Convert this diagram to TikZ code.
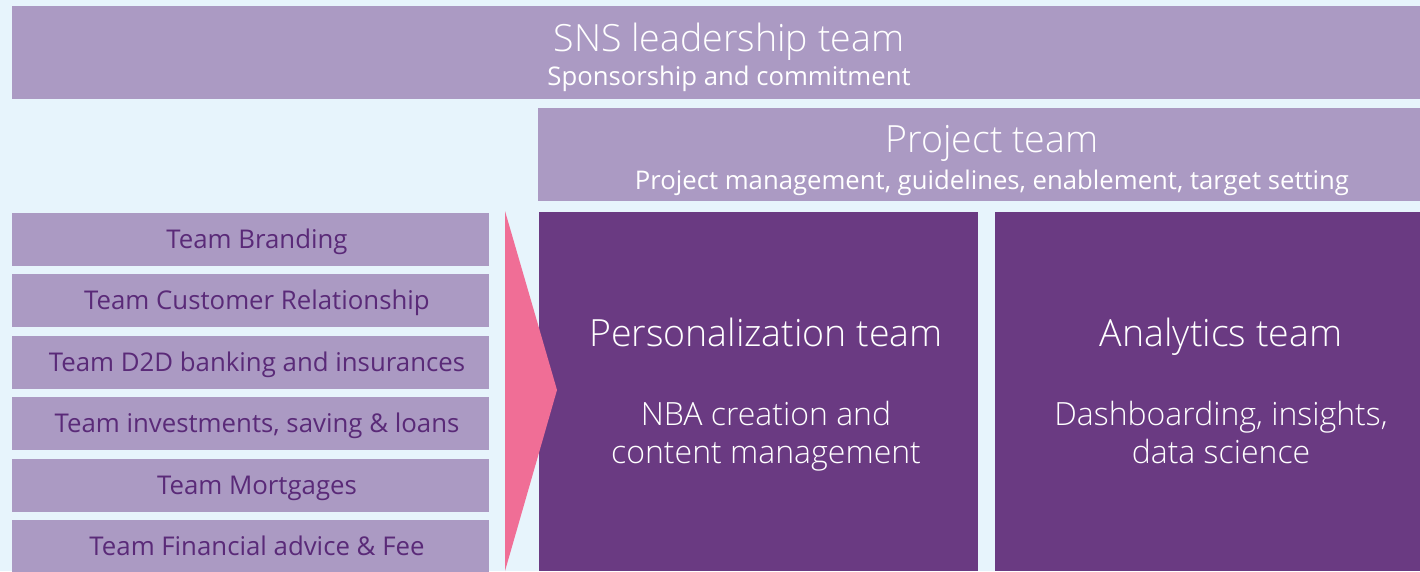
\documentclass[tikz,border=0pt]{standalone}
\usepackage{fontspec}
\setmainfont{Open Sans}
\newfontfamily\oslight{Open Sans Light}
\definecolor{bgblue}{HTML}{E7F4FC}
\definecolor{lilac}{HTML}{AB9AC3}
\definecolor{plum}{HTML}{6A3A82}
\definecolor{rose}{HTML}{F06E96}
\definecolor{inkplum}{HTML}{5A2A78}
\begin{document}
\begin{tikzpicture}[x=1pt,y=-1pt,
  block/.style={anchor=north west, inner sep=0pt, outer sep=0pt, fill=#1},
  title/.style={anchor=base, inner sep=0pt, text=white, font=\oslight\fontsize{37.5}{44}\selectfont},
  subtitle/.style={anchor=base, inner sep=0pt, text=white, font=\fontsize{25.7}{30}\selectfont},
  body/.style={anchor=base, inner sep=0pt, text=white, font=\oslight\fontsize{32}{38}\selectfont},
  teamtext/.style={anchor=base, inner sep=0pt, text=inkplum, font=\fontsize{25.8}{30}\selectfont},
  teambox/.style={block=lilac, minimum width=477pt, minimum height=53pt}]

\useasboundingbox (0,0) rectangle (1420,571);
\fill[bgblue] (0,0) rectangle (1420,571);

% leadership bar
\node[block=lilac, minimum width=1408pt, minimum height=93pt] (sns) at (12,6) {};
\node[title] (sns-title) at (729,51) {SNS leadership team};
\node[subtitle] (sns-sub) at (729,85) {Sponsorship and commitment};

% project team bar
\node[block=lilac, minimum width=882pt, minimum height=93pt] (proj) at (538,108) {};
\node[title] (proj-title) at (992,152.7) {Project team};
\node[subtitle] (proj-sub) at (992,189) {Project management, guidelines, enablement, target setting};

% business teams
\foreach \i/\t in {0/Team Branding, 1/Team Customer Relationship,
    2/Team D2D banking and insurances, {3/Team investments, saving \& loans},
    4/Team Mortgages, 5/Team Financial advice \& Fee} {
  \pgfmathsetmacro\rowtop{213+61.4*\i}
  \node[teambox] (team\i) at (12,\rowtop) {};
  \node[teamtext] (team\i-label) at (257,\rowtop+35.5) {\t};
}

% personalization team
\node[block=plum, minimum width=439pt, minimum height=359pt] (pers) at (539,212) {};
\node[title] (pers-title) at (766,346.7) {Personalization team};
\node[body] (pers-l1) at (766,425) {NBA creation and};
\node[body] (pers-l2) at (766,463) {content management};

% analytics team
\node[block=plum, minimum width=425pt, minimum height=359pt] (ana) at (995,212) {};
\node[title] (ana-title) at (1221,346.7) {Analytics team};
\node[body] (ana-l1) at (1221,425) {Dashboarding, insights,};
\node[body] (ana-l2) at (1221,463) {data science};

% funnel arrow, overlapping the edge of the personalization block
\fill[rose] (505,211) -- (557,390) -- (505,571) -- cycle;
\end{tikzpicture}
\end{document}
